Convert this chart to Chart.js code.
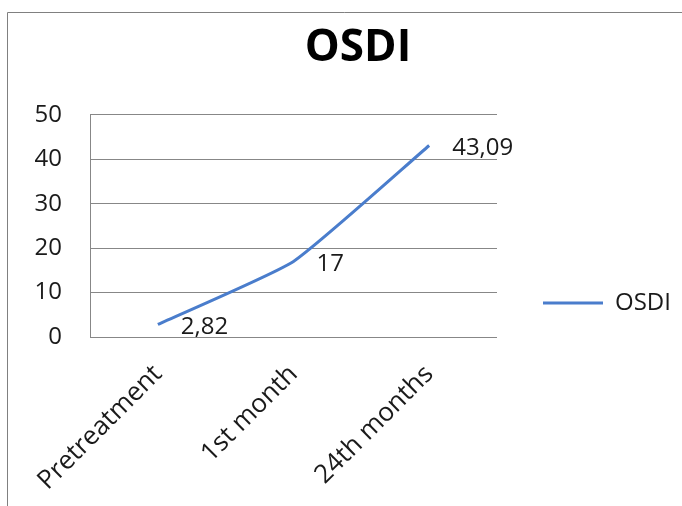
<!DOCTYPE html>
<html><head><meta charset="utf-8">
<script src="https://cdn.jsdelivr.net/npm/chart.js@4/dist/chart.umd.min.js"></script>
<style>html,body{margin:0;padding:0;background:#fff}</style>
</head><body>
<canvas id="c" width="682" height="506"></canvas>
<script>
const categories = ['Pretreatment', '1st month', '24th months'];
const osdiValues = [2.82, 17, 43.09];
const yTicks = [0, 10, 20, 30, 40, 50];
const seriesName = 'OSDI';
const chartTitle = 'OSDI';

const FONT = "'Open Sans', 'DejaVu Sans', sans-serif";
const TEXT = '#1a1a1a';
const GRID = '#878787';
const LINE = '#4a7dcc';
const LEGEND_WIDTH = 185;

const framePlugin = {
  id: 'frame',
  beforeDraw(chart) {
    const ctx = chart.ctx;
    ctx.save();
    ctx.fillStyle = '#fff';
    ctx.fillRect(0, 0, chart.width, chart.height);
    ctx.strokeStyle = '#808080';
    ctx.lineWidth = 1;
    ctx.beginPath();
    ctx.moveTo(7.5, chart.height);
    ctx.lineTo(7.5, 12.5);
    ctx.lineTo(chart.width, 12.5);
    ctx.stroke();
    ctx.restore();
  }
};

const legendWidthPlugin = {
  id: 'legendWidth',
  beforeLayout(chart) {
    const lg = chart.legend;
    if (lg && !lg._fixedWidth) {
      const orig = lg.fit.bind(lg);
      lg.fit = function () { orig(); this.width = LEGEND_WIDTH; };
      lg._fixedWidth = true;
    }
  }
};

const valueLabels = {
  id: 'valueLabels',
  afterDatasetsDraw(chart) {
    const ctx = chart.ctx;
    const meta = chart.getDatasetMeta(0);
    const data = chart.data.datasets[0].data;
    ctx.save();
    ctx.font = '24px ' + FONT;
    ctx.fillStyle = TEXT;
    ctx.textAlign = 'left';
    ctx.textBaseline = 'middle';
    meta.data.forEach((pt, i) => {
      const txt = String(data[i]).replace('.', ',');
      ctx.fillText(txt, pt.x + 23, pt.y + 3);
    });
    ctx.restore();
  }
};

new Chart(document.getElementById('c'), {
  type: 'line',
  data: {
    labels: categories,
    datasets: [{
      label: seriesName,
      data: osdiValues,
      borderColor: LINE,
      backgroundColor: LINE,
      borderWidth: 3,
      pointRadius: 0,
      pointHoverRadius: 0,
      tension: 0.15,
      fill: false
    }]
  },
  options: {
    responsive: false,
    animation: false,
    devicePixelRatio: 1,
    events: [],
    layout: { padding: { left: 34, top: 0, right: 0, bottom: 16 } },
    plugins: {
      tooltip: { enabled: false },
      title: {
        display: true,
        text: chartTitle,
        color: '#000',
        font: { family: FONT, size: 44, weight: 'bold', lineHeight: 1.2 },
        padding: { top: 22, bottom: 40 }
      },
      legend: {
        display: true,
        position: 'right',
        title: {
          display: true,
          text: '',
          font: { family: FONT, size: 10, lineHeight: 1 },
          padding: { top: 106, bottom: 0 }
        },
        labels: {
          usePointStyle: true,
          pointStyle: 'line',
          pointStyleWidth: 60,
          padding: 46,
          color: TEXT,
          font: { family: FONT, size: 24 }
        }
      }
    },
    scales: {
      x: {
        offset: true,
        grid: { display: false, drawTicks: false },
        border: { display: false },
        ticks: {
          color: TEXT,
          font: { family: FONT, size: 26 },
          minRotation: 45,
          maxRotation: 45,
          padding: 22
        },
        afterFit(scale) { scale.height = 153; }
      },
      y: {
        min: yTicks[0],
        max: yTicks[yTicks.length - 1],
        grid: { color: GRID, lineWidth: 1, drawTicks: false },
        border: { display: true, color: GRID, width: 1 },
        ticks: {
          stepSize: yTicks[1] - yTicks[0],
          color: TEXT,
          font: { family: FONT, size: 24 },
          padding: 28
        },
        afterFit(scale) { scale.width = 56; }
      }
    }
  },
  plugins: [framePlugin, legendWidthPlugin, valueLabels]
});
</script>
</body></html>
